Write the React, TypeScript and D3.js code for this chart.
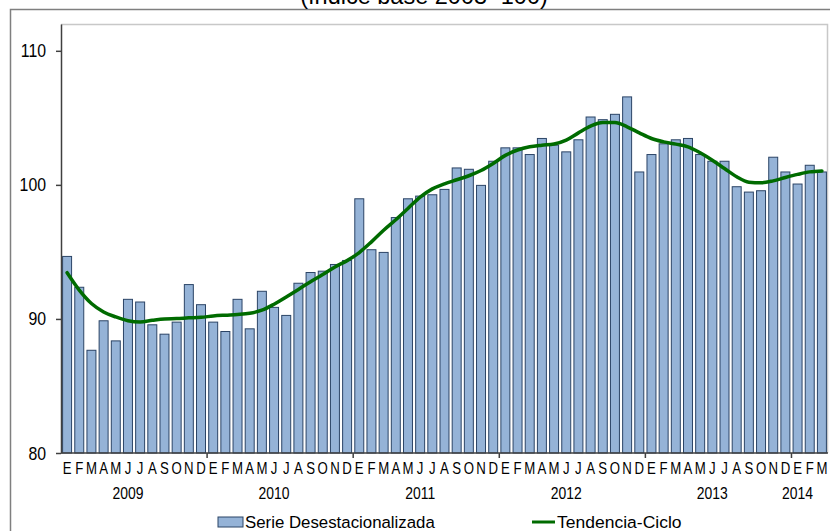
import React, { useRef, useEffect } from "react";
import * as d3 from "d3";

const years = ["2009", "2010", "2011", "2012", "2013", "2014"];
const monthLetters = ["E", "F", "M", "A", "M", "J", "J", "A", "S", "O", "N", "D"];
const monthsInLastYear = 3;

// Serie desestacionalizada, ene-2009 .. mar-2014
const serie = [
  94.7, 92.4, 87.7, 89.9, 88.4, 91.5, 91.3, 89.6, 88.9, 89.8, 92.6, 91.1,
  89.8, 89.1, 91.5, 89.3, 92.1, 90.9, 90.3, 92.7, 93.5, 93.6, 94.1, 94.4,
  99.0, 95.2, 95.0, 97.6, 99.0, 99.2, 99.3, 99.7, 101.3, 101.2, 100.0, 101.8,
  102.8, 102.8, 102.3, 103.5, 103.0, 102.5, 103.4, 105.1, 104.9, 105.3, 106.6, 101.0,
  102.3, 103.1, 103.4, 103.5, 102.3, 101.8, 101.8, 99.9, 99.5, 99.6, 102.1, 101.0,
  100.1, 101.5, 101.0,
];

// Tendencia-ciclo
const tendencia = [
  93.45, 92.15, 91.15, 90.52, 90.15, 89.87, 89.78, 89.9, 90.0, 90.03, 90.08, 90.12,
  90.22, 90.28, 90.33, 90.42, 90.65, 91.1, 91.64, 92.2, 92.78, 93.31, 93.88, 94.35,
  94.95, 95.75, 96.62, 97.4, 98.24, 99.08, 99.7, 100.08, 100.38, 100.68, 101.07, 101.6,
  102.2, 102.6, 102.84, 102.96, 103.05, 103.34, 103.88, 104.38, 104.65, 104.65, 104.33, 103.88,
  103.46, 103.21, 103.04, 102.84, 102.39, 101.84, 101.22, 100.6, 100.2, 100.15, 100.3, 100.55,
  100.78, 100.97, 101.04,
];

// month (index within the year) under which each year label sits
const yearLabelMonth = [5, 5, 5, 5, 5, 0];
const yTicks = [80, 90, 100, 110];

const title = "(índice base 2003=100)";
const legendBars = "Serie Desestacionalizada";
const legendLine = "Tendencia-Ciclo";

const FONT = "'Liberation Sans', Arial, sans-serif";

// condensed text: regular font squeezed horizontally
function narrowText(g, x, y, txt, size, sx, anchor) {
  return g
    .append("text")
    .attr("transform", `translate(${x},${y}) scale(${sx},1)`)
    .attr("text-anchor", anchor)
    .style("font-family", FONT)
    .style("font-size", `${size}px`)
    .attr("fill", "#000")
    .text(txt);
}

function App() {
  const svgRef = useRef(null);
  const width = 830;
  const height = 531;

  useEffect(() => {
    const svg = d3.select(svgRef.current);
    svg.selectAll("*").remove();

    const left = 61;
    const right = 828;
    const top = 24;
    const bottom = 453;

    // categories: one key per month
    const keys = [];
    const letters = [];
    years.forEach((yr, yi) => {
      const n = yi === years.length - 1 ? monthsInLastYear : 12;
      for (let m = 0; m < n; m++) {
        keys.push(`${yr}-${m}`);
        letters.push(monthLetters[m]);
      }
    });

    const x = d3
      .scaleBand()
      .domain(keys)
      .range([left, right])
      .paddingInner(0.18)
      .paddingOuter(0.09);

    const y = d3.scaleLinear().domain([80, 112]).range([bottom, top]);

    // outer frame
    svg
      .append("path")
      .attr("d", `M10.5,${height} V9.5 H${width}`)
      .attr("fill", "none")
      .attr("stroke", "#7f7f7f")
      .attr("stroke-width", 1.5);

    // title (cut off by the top edge)
    narrowText(svg, 424, 4, title, 23.5, 1.0, "middle");

    // plot border (top / right, light)
    svg
      .append("path")
      .attr("d", `M${left},${top + 0.5} H${right - 0.5} V${bottom}`)
      .attr("fill", "none")
      .attr("stroke", "#c8c8c8")
      .attr("stroke-width", 1.5);

    // bars
    svg
      .append("g")
      .selectAll("rect")
      .data(serie)
      .join("rect")
      .attr("x", (d, i) => x(keys[i]) + 0.5)
      .attr("y", (d) => y(d) + 0.5)
      .attr("width", x.bandwidth() - 1)
      .attr("height", (d) => y(80) - y(d) - 0.5)
      .attr("fill", "#95b3d7")
      .attr("stroke", "#2b4466")
      .attr("stroke-width", 1);

    // trend line
    const line = d3
      .line()
      .x((d, i) => x(keys[i]) + x.bandwidth() / 2)
      .y((d) => y(d))
      .curve(d3.curveMonotoneX);

    svg
      .append("path")
      .datum(tendencia)
      .attr("fill", "none")
      .attr("stroke", "#006b00")
      .attr("stroke-width", 3.5)
      .attr("stroke-linecap", "round")
      .attr("d", line);

    // y axis
    const yAxis = svg
      .append("g")
      .attr("transform", `translate(${left},0)`)
      .call(d3.axisLeft(y).tickValues(yTicks).tickSize(5).tickSizeOuter(0).tickFormat(""));
    yAxis.select(".domain").attr("stroke", "#404040").attr("stroke-width", 1.5);
    yAxis.selectAll(".tick line").attr("stroke", "#404040").attr("stroke-width", 1.5);
    yTicks.forEach((t) => {
      narrowText(svg, 46, y(t) + 6.5, String(t), 18, 0.88, "end");
    });

    // x axis line
    svg
      .append("line")
      .attr("x1", left)
      .attr("x2", right)
      .attr("y1", bottom)
      .attr("y2", bottom)
      .attr("stroke", "#404040")
      .attr("stroke-width", 1.5);

    // year boundary ticks
    const step = x.step();
    years.slice(1).forEach((yr) => {
      const bx = x(`${yr}-0`) - (step * x.paddingInner()) / 2;
      svg
        .append("line")
        .attr("x1", bx)
        .attr("x2", bx)
        .attr("y1", bottom)
        .attr("y2", bottom + 5)
        .attr("stroke", "#404040")
        .attr("stroke-width", 1.5);
    });

    // month letters
    const mg = svg.append("g");
    keys.forEach((k, i) => {
      narrowText(mg, x(k) + x.bandwidth() / 2, 474, letters[i], 16.5, 0.8, "middle");
    });

    // year labels
    const yg = svg.append("g");
    years.forEach((yr, i) => {
      narrowText(yg, x(`${yr}-${yearLabelMonth[i]}`) + x.bandwidth() / 2, 499, yr, 17, 0.82, "middle");
    });

    // legend
    const legend = svg.append("g");
    legend
      .append("rect")
      .attr("x", 218)
      .attr("y", 517)
      .attr("width", 25)
      .attr("height", 10)
      .attr("fill", "#95b3d7")
      .attr("stroke", "#2b4466")
      .attr("stroke-width", 1);
    narrowText(legend, 245, 527.5, legendBars, 17, 0.99, "start");
    legend
      .append("line")
      .attr("x1", 532)
      .attr("x2", 555)
      .attr("y1", 522)
      .attr("y2", 522)
      .attr("stroke", "#006b00")
      .attr("stroke-width", 3);
    narrowText(legend, 557, 527.5, legendLine, 17, 1.03, "start");
  }, []);

  return (
    <svg
      ref={svgRef}
      width={width}
      height={height}
      style={{ position: "absolute", left: 0, top: 0, background: "#fff" }}
    ></svg>
  );
}

export default App;
